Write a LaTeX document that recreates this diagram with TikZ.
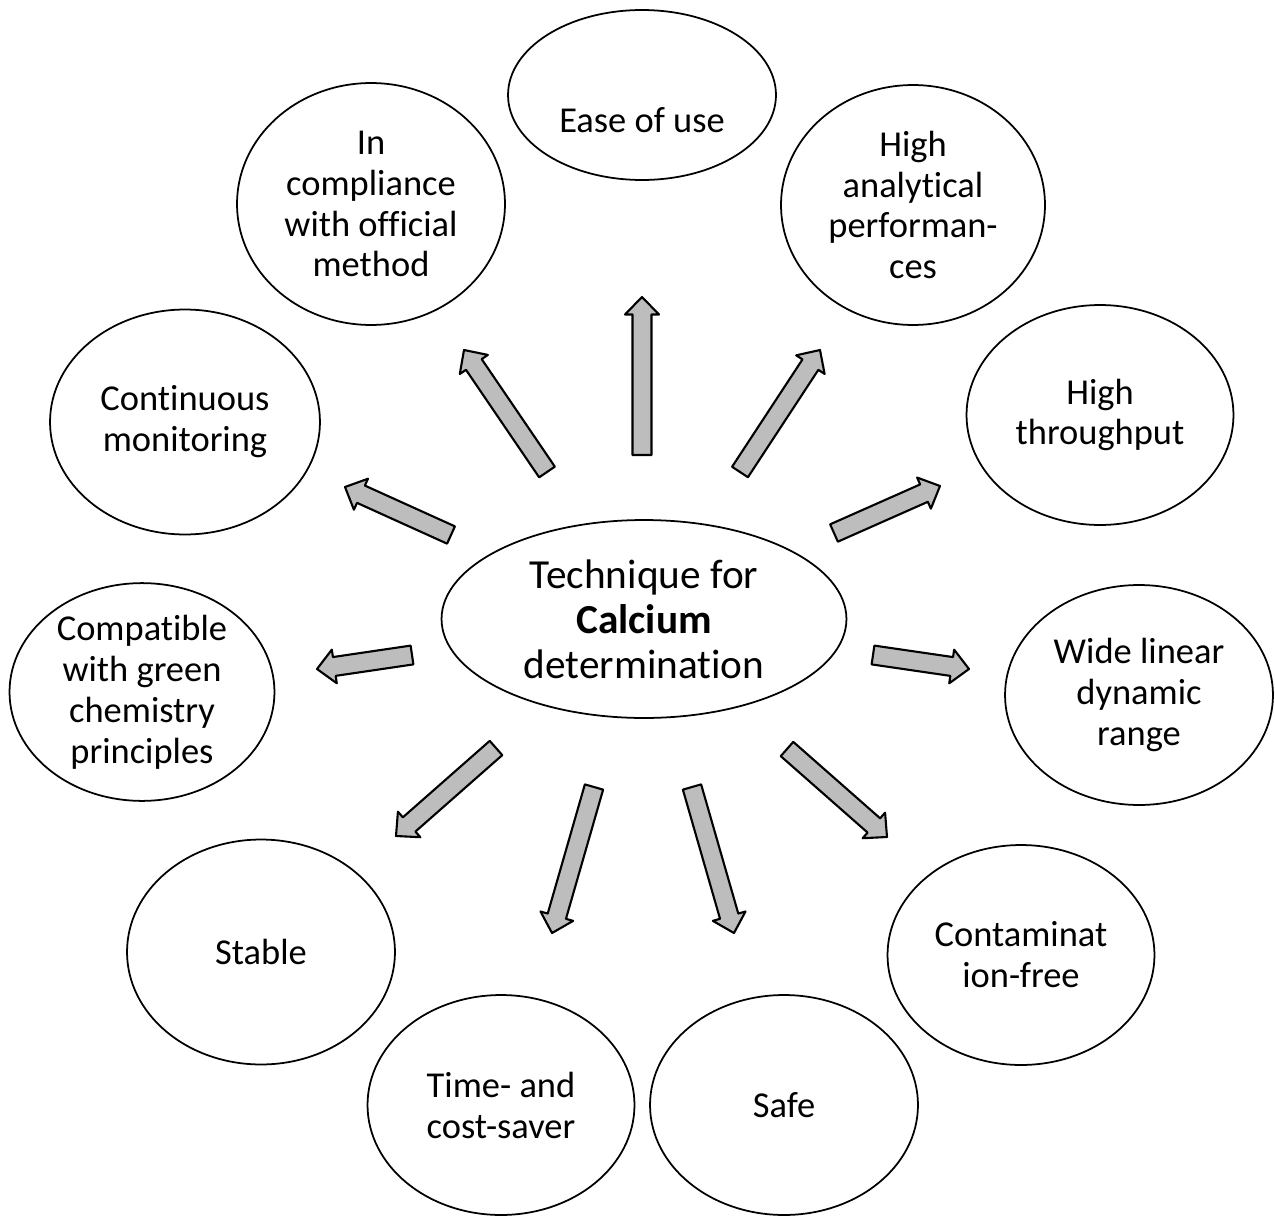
\documentclass[tikz,border=0pt]{standalone}
\usepackage{fontspec}
\setmainfont{Carlito}[Ligatures=CommonOff]
\usetikzlibrary{shapes.geometric,calc}

\tikzset{
  bubble/.style={ellipse, draw=black, line width=1pt, fill=white, inner sep=0pt,
    minimum width=5.36cm, minimum height=4.4cm, align=center,
    font=\fontsize{20.75}{23.3}\selectfont},
  hub/.style={bubble, minimum width=8.1cm, minimum height=3.96cm,
    font=\fontsize{23.5}{25.6}\selectfont},
  bubbletext/.style={inner sep=0pt, align=center, font=\fontsize{20.75}{23.3}\selectfont},
  blockarrow/.style={draw=black, line width=1.2pt, line join=round, fill=black!26},
}

% block arrow from coordinate #1 (tail) to coordinate #2 (tip)
\newcommand\blockarrow[2]{%
  \coordinate (hb) at ($(#2)!0.35cm!(#1)$);
  \path[blockarrow]
    ($(#1)!0.19cm!90:(#2)$) -- ($(hb)!0.19cm!-90:(#1)$) --
    ($(hb)!0.34cm!-90:(#1)$) -- (#2) --
    ($(hb)!0.34cm!90:(#1)$) -- ($(hb)!0.19cm!90:(#1)$) --
    ($(#1)!0.19cm!-90:(#2)$) -- cycle;
}

\begin{document}
\begin{tikzpicture}[x=0.02cm, y=-0.02cm]
  \useasboundingbox (0,0) rectangle (1275,1217);

  % central topic
  \node[hub] (hub) at (644,619) {Technique for\\\textbf{Calcium}\\determination};

  % surrounding properties
  \node[bubble, minimum height=3.4cm] (ease) at (642,95) {};
  \node[bubbletext] (easetext) at (642,120) {Ease of use};
  \node[bubble, minimum height=4.84cm] (compliance) at (371,204) {In\\compliance\\with official\\method};
  \node[bubble, minimum width=5.28cm, minimum height=4.8cm] (analytical) at (913,205) {High\\analytical\\performan-\\ces};
  \node[bubble, minimum width=5.4cm, minimum height=4.5cm] (monitoring) at (185,422) {Continuous\\monitoring};
  \node[bubble, minimum width=5.34cm] (throughput) at (1100,415) {High\\throughput};
  \node[bubble, minimum width=5.3cm, minimum height=4.3cm] (green) at (142,692) {Compatible\\with green\\chemistry\\principles};
  \node[bubble] (range) at (1139,695) {Wide linear\\dynamic\\range};
  \node[bubble, minimum height=4.5cm] (stable) at (261,952) {Stable};
  \node[bubble, minimum width=5.34cm] (contamination) at (1021,955) {Contaminat\\ion-free};
  \node[bubble, minimum width=5.34cm] (saver) at (501,1105) {Time- and\\cost-saver};
  \node[bubble] (safe) at (784,1105) {Safe};

  % arrow tails and tips
  \coordinate (t1) at (642,455);  \coordinate (h1) at (642,297);
  \coordinate (t2) at (547,472);  \coordinate (h2) at (464,350);
  \coordinate (t3) at (740,472);  \coordinate (h3) at (820,350);
  \coordinate (t4) at (451,535);  \coordinate (h4) at (345,487);
  \coordinate (t5) at (834,533);  \coordinate (h5) at (940,486);
  \coordinate (t6) at (412,655);  \coordinate (h6) at (317,669);
  \coordinate (t7) at (873,655);  \coordinate (h7) at (969,669);
  \coordinate (t8) at (496,748);  \coordinate (h8) at (396,836);
  \coordinate (t9) at (787,749);  \coordinate (h9) at (887,837);
  \coordinate (t10) at (594,787); \coordinate (h10) at (552,933);
  \coordinate (t11) at (692,787); \coordinate (h11) at (734,933);

  \blockarrow{t1}{h1}
  \blockarrow{t2}{h2}
  \blockarrow{t3}{h3}
  \blockarrow{t4}{h4}
  \blockarrow{t5}{h5}
  \blockarrow{t6}{h6}
  \blockarrow{t7}{h7}
  \blockarrow{t8}{h8}
  \blockarrow{t9}{h9}
  \blockarrow{t10}{h10}
  \blockarrow{t11}{h11}
\end{tikzpicture}
\end{document}
